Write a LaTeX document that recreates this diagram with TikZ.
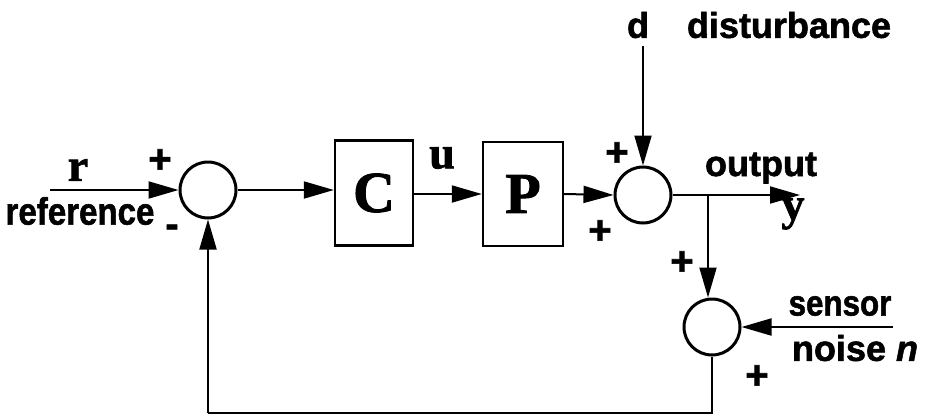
\documentclass[tikz,border=0pt]{standalone}
\usepackage{fontspec}
\usepackage{graphicx}
\setmainfont{Liberation Serif}[BoldFeatures={FakeBold=1.5}]
\setsansfont{Liberation Sans}[BoldFeatures={FakeBold=1.5},BoldItalicFeatures={FakeBold=1.5}]
\usetikzlibrary{arrows.meta}
\newcommand{\narrowtxt}[1]{\scalebox{0.87}[1]{#1}}
\tikzset{
  sumnode/.style={circle,draw,line width=3pt,minimum size=56pt,inner sep=0pt},
  blocknode/.style={rectangle,draw,line width=2.4pt,inner sep=0pt,font=\fontsize{58}{58}\selectfont\bfseries},
  sig/.style={line width=2pt},
  arr/.style={sig,-{Triangle[length=30pt,width=17pt]}},
  slab/.style={inner sep=0pt,font=\fontsize{36}{36}\selectfont\sffamily\bfseries},
  vlab/.style={inner sep=0pt,font=\fontsize{46}{46}\selectfont\bfseries},
  pm/.style={inner sep=0pt,font=\fontsize{40}{40}\selectfont\sffamily\bfseries}
}
\begin{document}
\begin{tikzpicture}[x=1pt,y=-1pt]
\useasboundingbox (0,0) rectangle (929,416);
% nodes
\coordinate (rin) at (50,190);
\node[sumnode] (s1) at (208,190) {};
\node[blocknode,minimum width=78pt,minimum height=105pt] (C) at (374,193) {C};
\node[blocknode,minimum width=80pt,minimum height=104pt] (P) at (523,194) {P};
\node[sumnode] (s2) at (643,195) {};
\coordinate (dtop) at (643,46);
\coordinate (yout) at (800,195);
\coordinate (br) at (708,195);
\node[sumnode] (s3) at (712,327) {};
\coordinate (nin) at (893,327);
\coordinate (fbr) at (712,413);
\coordinate (fbl) at (208,413);
% connectors
\draw[arr] (rin) -- (s1.west);
\draw[arr] (s1.east) -- (C.west |- s1.east);
\draw[arr] (C.east |- P.west) -- (P.west);
\draw[arr] (P.east) -- (s2.west);
\draw[arr] (dtop) -- (s2.north);
\draw[arr] (s2.east) -- (yout);
\draw[arr] (br) -- (br |- s3.north);
\draw[arr] (nin) -- (s3.east);
\draw[sig] (s3.south) -- (fbr) -- (fbl);
\draw[arr] (fbl) -- (s1.south);
% labels
\node[vlab] (lr) at (78,170) {r};
\node[pm] (p1) at (160,161) {+};
\node[slab,font=\fontsize{38}{38}\selectfont\sffamily\bfseries] (lref) at (80,211) {\narrowtxt{reference}};
\node[pm] (m1) at (172,231) {-};
\node[vlab] (lu) at (442,158) {u};
\node[slab] (ld) at (638,25) {d};
\node[slab] (ldist) at (789,25) {disturbance};
\node[pm] (p2) at (617,154) {+};
\node[pm] (p3) at (600,232) {+};
\node[slab] (lout) at (761,168) {output};
\node[vlab] (ly) at (793,214) {y};
\node[pm] (p4) at (682,263) {+};
\node[slab] (lsen) at (840,306) {\narrowtxt{sensor}};
\node[slab] (lnoi) at (855,348) {noise \textit{n}};
\node[pm] (p5) at (757,377) {+};
\end{tikzpicture}
\end{document}
